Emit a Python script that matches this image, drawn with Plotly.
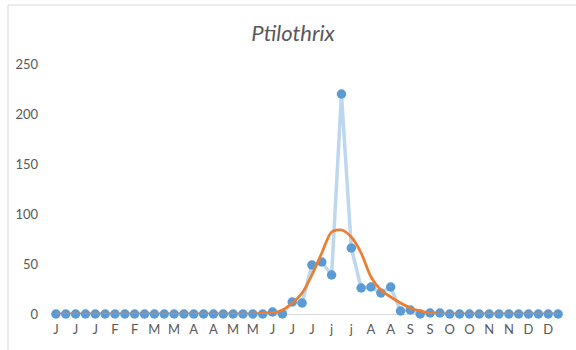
import plotly.graph_objects as go

tick_labels = ["J", "J", "J", "F", "F", "M", "M", "A", "A", "M", "M", "J", "J",
               "J", "j", "j", "A", "A", "S", "S", "O", "O", "N", "N", "D", "D"]

observed = [0, 0, 0, 0, 0, 0, 0, 0, 0, 0, 0, 0, 0, 0, 0, 0, 0, 0, 0, 0, 0, 0,
            2, 0, 12, 11, 49, 52, 39, 220, 66, 26, 27, 21, 27, 3, 4, 0, 1,
            1, 0, 0, 0, 0, 0, 0, 0, 0, 0, 0, 0, 0]
smoothed = [0, 0, 0, 0, 0, 0, 0, 0, 0, 0, 0, 0, 0, 0, 0, 0, 0, 0, 0, 0, 0, 1,
            1, 4, 11, 21, 39, 61, 82, 84, 77, 61, 37, 24, 17, 11, 6, 3, 1,
            0, 0, 0, 0, 0, 0, 0, 0, 0, 0, 0, 0, 0]

x = list(range(len(observed)))

fig = go.Figure()
fig.add_trace(go.Scatter(
    x=x, y=observed, mode="lines+markers",
    line=dict(color="#BDD7EE", width=3.5),
    marker=dict(color="#5B9BD5", size=9.5),
    cliponaxis=False, showlegend=False))
fig.add_trace(go.Scatter(
    x=x, y=smoothed, mode="lines",
    line=dict(color="#ED7D31", width=2.75, shape="spline", smoothing=0.8),
    cliponaxis=False, showlegend=False))

fig.update_layout(
    width=576, height=350,
    margin=dict(l=51, r=13, t=64, b=36),
    paper_bgcolor="white", plot_bgcolor="white",
    font=dict(family="Lato, 'Open Sans', sans-serif", color="#595959", size=13),
    title=dict(text="<i>Ptilothrix</i>", x=293 / 576, xanchor="center",
               y=1 - 33 / 350, yanchor="middle",
               font=dict(size=22, color="#595959")),
    xaxis=dict(range=[-0.5, len(observed) - 0.5], tickmode="array",
               tickvals=[2 * i for i in range(len(tick_labels))],
               ticktext=tick_labels, showgrid=False, zeroline=False,
               showline=False, ticks="", ticklabelstandoff=6,
               tickfont=dict(size=13, color="#595959")),
    yaxis=dict(range=[0, 250], tickvals=[0, 50, 100, 150, 200, 250],
               showgrid=False, zeroline=True, zerolinecolor="#D9D9D9",
               zerolinewidth=1, showline=False, ticks="",
               ticklabelstandoff=12,
               tickfont=dict(size=13, color="#595959")),
    shapes=[dict(type="line", xref="paper", yref="paper",
                 x0=(8 - 51) / 512, x1=(8 - 51) / 512,
                 y0=(314 - 5) / 250, y1=(314 - 352) / 250,
                 line=dict(color="#D9D9D9", width=1)),
            dict(type="line", xref="paper", yref="paper",
                 x0=(8 - 51) / 512, x1=(580 - 51) / 512,
                 y0=(314 - 5) / 250, y1=(314 - 5) / 250,
                 line=dict(color="#D9D9D9", width=1))],
)

fig.write_html("out.html", config={"displayModeBar": False},
               post_script="document.body.style.margin='0';document.body.style.overflow='hidden';")
